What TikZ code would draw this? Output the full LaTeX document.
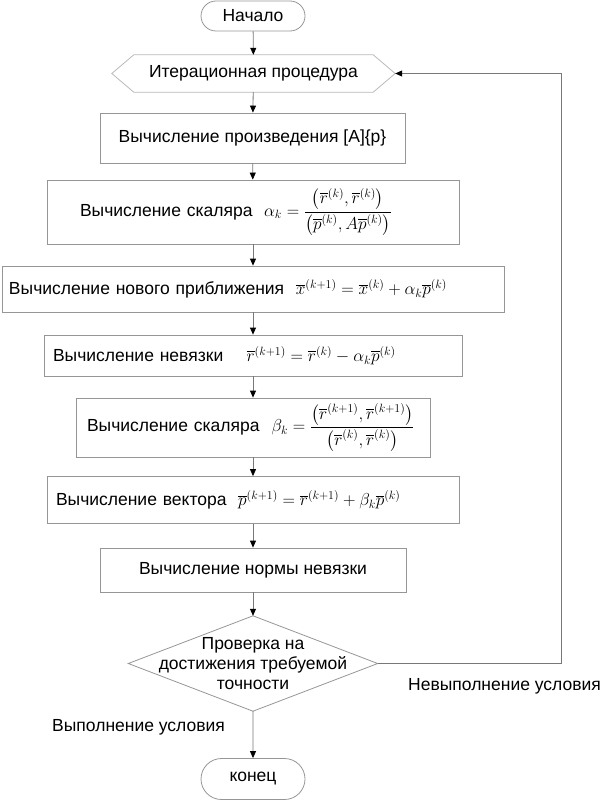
\documentclass[tikz,border=0pt]{standalone}
\usepackage{amsmath}
\usepackage{fontspec}
\setmainfont{Liberation Sans}
\usetikzlibrary{arrows.meta,shapes.misc}
\definecolor{boxgray}{RGB}{150,150,150}
\definecolor{hexgray}{RGB}{185,185,185}
\definecolor{linegray}{RGB}{120,120,120}
\newcommand{\ov}[1]{\overline{#1}}
\begin{document}
\begin{tikzpicture}[x=1pt,y=-1pt,
  font=\fontsize{17.5}{20.5}\selectfont,
  proc/.style={draw=boxgray, line width=0.8pt, inner ysep=0pt, align=center},
  lproc/.style={draw=boxgray, line width=0.8pt, inner ysep=0pt, align=left},
  term/.style={draw=boxgray, line width=0.8pt, shape=rounded rectangle, inner sep=0pt, minimum width=104pt},
  flow/.style={draw=linegray, line width=0.8pt, -{Triangle[length=7pt,width=6pt,color=black]}},
  lbl/.style={anchor=west, inner sep=0pt}
]
\useasboundingbox (0,0) rectangle (602,800);

\node[term, minimum height=30pt] (start) at (253,16) {Начало};

\node[inner sep=0pt, minimum width=283pt, minimum height=37pt] (iter) at (253.5,73.5) {Итерационная процедура};
\draw[hexgray, line width=0.8pt] (iter.west) -- ([xshift=22pt]iter.north west) -- ([xshift=-22pt]iter.north east)
  -- (iter.east) -- ([xshift=-22pt]iter.south east) -- ([xshift=22pt]iter.south west) -- cycle;

\node[proc, minimum width=305pt, minimum height=50pt] (b1) at (252.5,138) {Вычисление произведения [A]\{p\}};

\node[lproc, minimum height=64pt, text width=346pt, inner xsep=33pt] (b2) at (253,212)
  {\mbox{Вычисление скаляра \ $\alpha_k=\dfrac{\left(\ov{r}^{(k)},\ov{r}^{(k)}\right)}{\left(\ov{p}^{(k)},A\ov{p}^{(k)}\right)}$}};

\node[lproc, minimum height=46pt, text width=488pt, inner xsep=7pt] (b3) at (253,289)
  {\mbox{Вычисление нового приближения \ $\ov{x}^{(k+1)}=\ov{x}^{(k)}+\alpha_k\ov{p}^{(k)}$}};

\node[lproc, minimum height=41pt, text width=400pt, inner xsep=9pt] (b4) at (253,355.5)
  {\mbox{Вычисление невязки \quad $\ov{r}^{(k+1)}=\ov{r}^{(k)}-\alpha_k\ov{p}^{(k)}$}};

\node[lproc, minimum height=59pt, text width=332pt, inner xsep=11pt] (b5) at (253,427.5)
  {\mbox{Вычисление скаляра\hspace{12pt}$\beta_k=\dfrac{\left(\ov{r}^{(k+1)},\ov{r}^{(k+1)}\right)}{\left(\ov{r}^{(k)},\ov{r}^{(k)}\right)}$}};

\node[lproc, minimum height=47pt, text width=394pt, inner xsep=9pt] (b6) at (253,500)
  {\mbox{Вычисление вектора \ $\ov{p}^{(k+1)}=\ov{r}^{(k+1)}+\beta_k\ov{p}^{(k)}$}};

\node[proc, minimum width=306pt, minimum height=44pt] (b7) at (253,570) {Вычисление нормы невязки};

\node[inner sep=0pt, minimum width=249pt, minimum height=95pt, align=center, font=\fontsize{17.5}{20}\selectfont] (dec) at (253,663.5)
  {Проверка на\\достижения требуемой\\точности};
\draw[boxgray, line width=0.8pt] (dec.north) -- (dec.east) -- (dec.south) -- (dec.west) -- cycle;

\node[term, minimum height=41pt] (end) at (253,779) {конец};

\node[lbl] (no) at (408,686) {Невыполнение условия};
\node[lbl] (yes) at (52,727) {Выполнение условия};

\coordinate (loop) at (561,663.5);

\draw[flow] (start) -- (iter);
\draw[flow] (iter) -- (b1);
\draw[flow] (b1) -- (b2);
\draw[flow] (b2) -- (b3);
\draw[flow] (b3) -- (b4);
\draw[flow] (b4) -- (b5);
\draw[flow] (b5) -- (b6);
\draw[flow] (b6) -- (b7);
\draw[flow] (b7) -- (dec.north);
\draw[flow] (dec.south) -- (end);
\draw[flow] (dec.east) -- (loop) |- (iter.east);
\end{tikzpicture}
\end{document}
